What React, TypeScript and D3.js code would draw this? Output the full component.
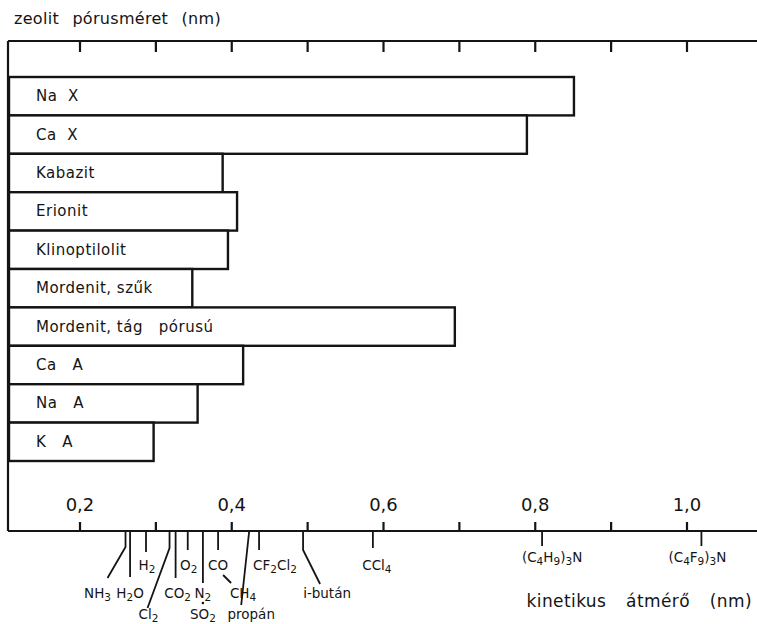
// @ts-nocheck
import { useEffect, useRef } from 'react';
import * as d3 from 'd3';

// zeolites, top to bottom, and their effective pore size (nm, on the kinetic diameter scale)
const zeolites = ['Na  X', 'Ca  X', 'Kabazit', 'Erionit', 'Klinoptilolit', 'Mordenit, szűk', 'Mordenit, tág   pórusú', 'Ca   A', 'Na   A', 'K   A'];
const poreSizes = [0.851, 0.789, 0.388, 0.407, 0.395, 0.348, 0.694, 0.415, 0.355, 0.297];

// molecules along the bottom axis and their kinetic diameters (nm)
const molecules = ['NH_3', 'H_2O', 'H_2', 'Cl_2', 'CO_2', 'O_2', 'N_2', 'SO_2', 'CO', 'CH_4', 'propán', 'CF_2Cl_2', 'i-bután', 'CCl_4', '(C_4H_9)_3N', '(C_4F_9)_3N'];
const diameters = [0.26, 0.266, 0.287, 0.318, 0.326, 0.342, 0.362, 0.362, 0.382, 0.382, 0.423, 0.436, 0.494, 0.586, 0.809, 1.019];

const tickValues = [0.2, 0.3, 0.4, 0.5, 0.6, 0.7, 0.8, 0.9, 1.0];
const tickLabels = ['0,2', '0,4', '0,6', '0,8', '1,0'];
const labelledTicks = [0.2, 0.4, 0.6, 0.8, 1.0];

// leader line shape + label placement for each molecule (pixel offsets from the axis point)
const moleculeLayout = [
  { pts: [[0, 0], [0, 16], [-18, 47]], lx: -28, ly: 67 },
  { pts: [[0, 0], [0, 46]], lx: 0, ly: 67 },
  { pts: [[0, 0], [0, 21]], lx: 1, ly: 39 },
  { pts: [[0, 0], [0, 17], [-22, 77]], lx: -21, ly: 88 },
  { pts: [[0, 0], [0, 47]], lx: 2, ly: 67 },
  { pts: [[0, 0], [0, 19]], lx: 1, ly: 39 },
  { pts: [[0, 0], [0, 52]], lx: 0, ly: 67 },
  { pts: [], dot: 72, lx: 0, ly: 88 },
  { pts: [[0, 0], [0, 19]], lx: 0, ly: 39 },
  { pts: [[5, 44], [13, 52]], lx: 25, ly: 67 },
  { pts: [[0, 0], [-8, 74]], lx: 2, ly: 88 },
  { pts: [[0, 0], [0, 19]], lx: -6, ly: 39, anchor: 'start' },
  { pts: [[0, 0], [0, 19], [17, 53]], lx: 24, ly: 67 },
  { pts: [[0, 0], [0, 17]], lx: 4, ly: 39 },
  { pts: [[0, 0], [0, 15]], lx: 10, ly: 31 },
  { pts: [[0, 0], [0, 15]], lx: -4, ly: 31 },
];

const W = 757;
const H = 624;
const FONT = "'DejaVu Sans', sans-serif";
const INK = '#141414';

function formula(sel, label) {
  const parts = label.split(/(_.)/).filter((p) => p !== '');
  let low = false;
  parts.forEach((p) => {
    if (p.startsWith('_')) {
      sel.append('tspan').attr('dy', low ? 0 : 3).attr('font-size', '0.78em').text(p.slice(1));
      low = true;
    } else {
      sel.append('tspan').attr('dy', low ? -3 : 0).text(p);
      low = false;
    }
  });
}

export default function App() {
  const svgRef = useRef(null);

  useEffect(() => {
    const svg = d3.select(svgRef.current);
    svg.selectAll('*').remove();

    const frameLeft = 8;
    const frameTop = 41;
    const axisY = 531;

    const x = d3.scaleLinear().domain([0.2, 1.0]).range([80, 687]);
    const y = d3.scaleBand().domain(zeolites).range([77, 77 + 38.4 * zeolites.length]).paddingInner(0);

    svg.append('rect').attr('width', W).attr('height', H).attr('fill', '#fff');

    // title
    svg.append('text')
      .attr('x', 14).attr('y', 24)
      .attr('font-family', FONT).attr('font-size', 16)
      .attr('word-spacing', 8).attr('letter-spacing', 0.3)
      .attr('fill', INK)
      .text('zeolit pórusméret (nm)');

    // frame
    const frame = svg.append('g').attr('stroke', INK).attr('stroke-width', 2.2).attr('fill', 'none');
    frame.append('line').attr('x1', frameLeft).attr('x2', W).attr('y1', frameTop).attr('y2', frameTop);
    frame.append('line').attr('x1', frameLeft).attr('x2', frameLeft).attr('y1', frameTop).attr('y2', axisY);
    frame.append('line').attr('x1', frameLeft).attr('x2', W).attr('y1', axisY).attr('y2', axisY);

    tickValues.forEach((t) => {
      frame.append('line').attr('x1', x(t)).attr('x2', x(t)).attr('y1', frameTop).attr('y2', frameTop + 11);
      frame.append('line').attr('x1', x(t)).attr('x2', x(t)).attr('y1', axisY).attr('y2', axisY - 9);
    });

    // tick labels
    labelledTicks.forEach((t, i) => {
      svg.append('text')
        .attr('x', x(t)).attr('y', axisY - 20)
        .attr('text-anchor', 'middle')
        .attr('font-family', FONT).attr('font-size', 18)
        .attr('fill', INK)
        .text(tickLabels[i]);
    });

    // bars
    const bars = svg.append('g');
    zeolites.forEach((z, i) => {
      bars.append('rect')
        .attr('x', frameLeft + 1)
        .attr('y', y(z))
        .attr('width', x(poreSizes[i]) - frameLeft - 1)
        .attr('height', y.bandwidth())
        .attr('fill', '#fff')
        .attr('stroke', INK)
        .attr('stroke-width', 2.4);
      bars.append('text')
        .attr('x', 36)
        .attr('y', y(z) + y.bandwidth() / 2 + 5)
        .attr('font-family', FONT).attr('font-size', 15)
        .attr('letter-spacing', 0.5)
        .attr('fill', INK)
        .style('white-space', 'pre')
        .text(z);
    });

    // molecule markers
    const mol = svg.append('g');
    molecules.forEach((m, i) => {
      const px = x(diameters[i]);
      const lay = moleculeLayout[i];
      if (lay.pts.length) {
        mol.append('path')
          .attr('d', d3.line()(lay.pts.map(([dx, dy]) => [px + dx, axisY + dy])))
          .attr('fill', 'none')
          .attr('stroke', INK)
          .attr('stroke-width', 1.8);
      }
      if (lay.dot) {
        mol.append('circle').attr('cx', px).attr('cy', axisY + lay.dot).attr('r', 1.3).attr('fill', INK);
      }
      const t = mol.append('text')
        .attr('x', px + lay.lx)
        .attr('y', axisY + lay.ly)
        .attr('text-anchor', lay.anchor || 'middle')
        .attr('font-family', FONT).attr('font-size', 13.5)
        .attr('fill', INK);
      formula(t, m);
    });

    // axis title
    svg.append('text')
      .attr('x', 752).attr('y', 607)
      .attr('text-anchor', 'end')
      .attr('font-family', FONT).attr('font-size', 17)
      .attr('word-spacing', 14).attr('letter-spacing', 0.4)
      .attr('fill', INK)
      .text('kinetikus átmérő (nm)');
  }, []);

  return (
    <svg
      ref={svgRef}
      width={W}
      height={H}
      style={{ position: 'absolute', left: 0, top: 0, display: 'block' }}
    />
  );
}
